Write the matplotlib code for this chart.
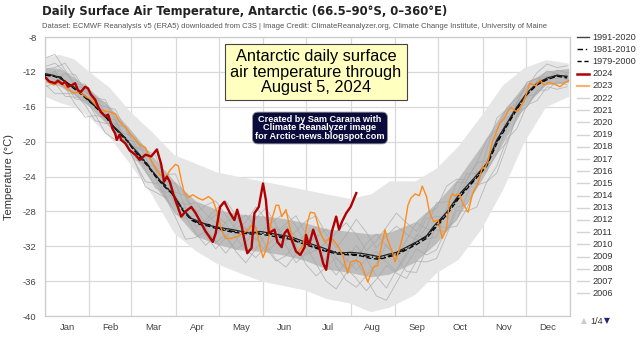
import matplotlib
matplotlib.use("Agg")
import matplotlib.pyplot as plt
from matplotlib.lines import Line2D

plt.rcParams["font.family"] = ["Liberation Sans", "DejaVu Sans"]
plt.rcParams["axes.unicode_minus"] = False

# month boundaries and label positions (day of year, leap year)
month_bounds = [0, 31, 60, 91, 121, 152, 182, 213, 244, 274, 305, 335, 366]
month_names = ["Jan", "Feb", "Mar", "Apr", "May", "Jun", "Jul", "Aug", "Sep", "Oct", "Nov", "Dec"]

# climatological means
clim_days = [0, 6, 11, 15, 20, 24, 29, 33, 38, 43, 47, 52, 57, 61, 66, 71, 78, 84, 89, 96,
             102, 108, 114, 120, 131, 143, 150, 157, 171, 183, 194, 204, 213, 220, 227, 233, 240, 245, 252, 259,
             266, 271, 275, 280, 289, 298, 308, 315, 322, 329, 336, 343, 350, 357, 364]
clim_1991_2020 = [-12.2, -12.4, -12.7, -13.2, -13.7, -14.3, -14.9, -15.6, -16.4, -17.2,
                  -18.1, -18.9, -19.8, -20.6, -21.5, -22.6, -24.0, -25.2, -25.9, -27.8,
                  -28.8, -29.2, -29.6, -29.8, -30.1, -30.5, -30.3, -30.5, -30.9, -31.6,
                  -32.2, -32.8, -32.7, -32.8, -33.0, -33.2, -32.9, -32.7, -32.1, -31.5,
                  -30.8, -29.7, -29.0, -28.1, -26.0, -24.4, -22.5, -19.8, -17.9, -16.0,
                  -14.4, -13.3, -12.7, -12.4, -12.5]
clim_1981_2010 = [-12.3, -12.5, -12.6, -13.3, -13.8, -14.2, -15.0, -15.7, -16.3, -17.3,
                  -18.2, -19.0, -19.7, -20.8, -21.6, -22.5, -24.1, -25.0, -26.1, -27.7,
                  -28.9, -29.4, -29.5, -29.9, -30.3, -30.4, -30.5, -30.6, -31.1, -31.8,
                  -32.4, -32.7, -32.9, -33.0, -33.2, -33.4, -33.1, -32.8, -32.3, -31.6,
                  -30.9, -29.9, -29.2, -28.2, -26.2, -24.6, -22.6, -20.0, -18.0, -16.2,
                  -14.5, -13.4, -12.8, -12.4, -12.6]
clim_1979_2000 = [-12.4, -12.5, -12.8, -13.2, -13.9, -14.4, -15.1, -15.7, -16.5, -17.3,
                  -18.1, -19.1, -19.9, -20.7, -21.8, -22.7, -24.2, -25.3, -26.0, -27.9,
                  -29.0, -29.5, -29.7, -30.0, -30.4, -30.6, -30.6, -30.8, -31.2, -31.9,
                  -32.5, -32.9, -33.0, -33.1, -33.4, -33.5, -33.2, -33.0, -32.4, -31.8,
                  -31.1, -30.1, -29.4, -28.4, -26.4, -24.7, -22.8, -20.2, -18.2, -16.3,
                  -14.6, -13.5, -12.9, -12.5, -12.7]

# 2024 through August 5
days_2024 = [0, 3, 7, 9, 12, 14, 16, 19, 21, 23, 25, 28, 30, 32, 35, 37, 39, 42, 44, 46,
             47, 49, 50, 52, 53, 56, 59, 63, 66, 70, 74, 78, 81, 83, 85, 87, 90, 95, 98, 102,
             105, 109, 112, 117, 119, 122, 125, 129, 132, 134, 137, 139, 141, 144, 146, 149, 152, 154, 156, 160,
             162, 165, 167, 169, 172, 175, 178, 181, 182, 184, 187, 189, 191, 194, 196, 198, 200, 203, 205, 207,
             210, 213, 217]
temp_2024 = [-12.6, -13.1, -13.3, -13.0, -13.4, -13.1, -13.7, -13.5, -13.3, -14.1,
             -14.3, -13.7, -13.9, -14.6, -15.2, -16.0, -16.6, -17.1, -16.9, -17.9,
             -18.5, -19.1, -19.8, -19.2, -19.8, -20.2, -21.0, -21.5, -22.1, -21.5,
             -21.7, -20.9, -22.6, -24.6, -24.0, -24.6, -26.3, -28.6, -28.0, -27.5,
             -28.2, -29.4, -30.3, -31.5, -30.5, -27.5, -26.9, -28.2, -29.0, -27.8,
             -29.6, -31.3, -32.8, -32.2, -28.2, -27.5, -24.8, -26.7, -30.5, -30.1,
             -31.5, -32.1, -30.5, -30.1, -31.3, -32.6, -33.0, -32.1, -30.7, -31.9,
             -30.1, -31.1, -32.1, -34.0, -34.7, -32.4, -30.3, -28.6, -30.1, -29.2,
             -28.2, -27.5, -25.9]

# 2023 full year
days_2023 = [0, 2, 6, 10, 14, 17, 20, 24, 29, 33, 35, 38, 42, 45, 49, 51, 54, 56, 59, 63,
             66, 70, 73, 77, 80, 84, 87, 91, 93, 95, 97, 100, 103, 107, 110, 114, 117, 120, 123, 126,
             130, 135, 138, 142, 144, 147, 150, 152, 155, 158, 161, 163, 165, 168, 171, 174, 176, 180, 183, 185,
             188, 192, 195, 199, 202, 205, 208, 211, 213, 217, 220, 222, 225, 229, 232, 234, 237, 239, 242, 244,
             247, 250, 253, 255, 258, 261, 263, 266, 268, 271, 274, 277, 280, 282, 284, 286, 289, 291, 295, 298,
             302, 305, 307, 309, 312, 314, 317, 320, 323, 325, 329, 332, 335, 338, 342, 345, 348, 352, 355, 359,
             362, 365]
temp_2023 = [-12.6, -13.1, -13.5, -13.2, -13.7, -14.1, -14.4, -14.3, -14.9, -15.2,
             -15.7, -16.3, -16.5, -16.6, -16.8, -17.5, -18.1, -18.3, -19.0, -19.8,
             -20.4, -20.7, -21.9, -23.0, -23.8, -24.2, -23.3, -22.6, -22.8, -24.4,
             -25.8, -26.4, -26.1, -26.5, -26.7, -26.3, -26.7, -28.1, -30.1, -31.1,
             -31.1, -30.8, -30.5, -30.1, -29.6, -29.9, -32.1, -33.3, -31.9, -29.0,
             -27.3, -27.3, -28.6, -27.8, -30.1, -32.2, -32.7, -31.9, -29.2, -28.1,
             -28.2, -30.5, -31.5, -31.0, -31.5, -32.2, -33.3, -35.1, -33.8, -33.6,
             -33.9, -34.7, -36.1, -34.4, -34.2, -32.4, -30.1, -31.3, -32.6, -33.8,
             -32.4, -30.4, -27.3, -26.5, -26.0, -26.2, -25.1, -26.3, -28.1, -29.2,
             -29.0, -31.1, -29.9, -26.7, -26.0, -26.2, -26.0, -27.0, -28.1, -26.0,
             -24.7, -22.9, -23.0, -22.1, -19.9, -19.2, -17.9, -17.4, -16.4, -16.1,
             -16.6, -15.9, -14.8, -13.3, -13.6, -12.9, -13.5, -13.2, -13.4, -13.7,
             -13.3, -13.0]

# spread of earlier years: full range and the dense middle
env_days = [0, 10, 20, 31, 45, 59, 74, 90, 105, 120, 135, 151, 166, 181, 196, 212, 227, 240, 258, 273,
            288, 304, 319, 334, 349, 365]
env_hi = [-10.3, -10.0, -10.5, -12.0, -13.8, -16.5, -18.8, -21.5, -22.5, -23.5, -24.0, -24.5, -25.0,
          -25.5, -26.0, -26.5, -26.0, -24.5, -24.5, -23.0, -20.5, -17.0, -13.5, -11.5, -10.6, -11.0]
env_lo = [-14.8, -15.5, -16.0, -17.2, -19.5, -22.5, -26.0, -30.5, -32.5, -34.0, -35.0, -36.0, -36.5,
          -37.0, -38.0, -38.5, -39.5, -39.0, -37.5, -35.0, -33.5, -30.0, -25.5, -20.0, -16.0, -14.8]
core_hi = [-11.5, -11.6, -12.6, -14.0, -16.0, -18.5, -21.5, -24.5, -26.8, -27.8, -28.3, -28.5, -28.8,
           -29.3, -30.0, -30.3, -30.6, -30.4, -29.2, -27.0, -24.2, -20.5, -16.6, -13.5, -11.9, -11.6]
core_lo = [-13.2, -13.6, -14.6, -16.0, -18.3, -21.0, -24.5, -28.0, -30.8, -31.8, -32.4, -32.6, -33.0,
           -33.6, -34.6, -35.0, -35.5, -35.2, -33.8, -31.6, -28.6, -24.5, -20.2, -16.0, -13.5, -13.2]

# a few of the earlier years, weekly
gray_days = list(range(0, 365, 7))
gray_years = [
    [-11.4, -11.0, -12.0, -13.6, -13.9, -15.6, -17.5, -17.9, -18.4, -20.3, -23.2, -25.3, -25.8, -25.8,
     -26.2, -28.1, -30.7, -32.3, -31.0, -29.4, -28.4, -29.8, -32.2, -33.7, -33.1, -31.6, -30.6, -29.8,
     -31.6, -34.2, -35.9, -36.7, -35.4, -34.0, -31.8, -33.2, -34.9, -35.0, -32.3, -29.6, -29.9, -29.0,
     -26.2, -23.5, -23.2, -21.4, -18.3, -15.4, -14.9, -13.0, -11.9, -12.2, -12.8],
    [-13.4, -14.5, -14.5, -14.5, -15.8, -17.6, -17.9, -18.0, -20.1, -22.4, -24.6, -24.8, -24.6, -24.8,
     -27.6, -29.8, -29.0, -27.8, -26.8, -28.4, -30.2, -28.8, -27.6, -29.5, -31.4, -30.3, -29.1, -28.5,
     -30.6, -32.2, -30.7, -28.9, -30.4, -32.2, -30.8, -29.7, -30.6, -31.3, -29.8, -27.0, -26.9, -27.0,
     -24.4, -22.4, -22.2, -21.3, -20.1, -17.0, -16.0, -14.1, -14.1, -13.1, -13.5],
    [-11.9, -13.0, -12.2, -12.3, -14.1, -15.7, -16.0, -16.3, -18.5, -20.7, -21.1, -23.3, -26.2, -28.3,
     -28.8, -28.4, -29.8, -31.6, -30.6, -32.6, -33.9, -32.3, -30.7, -29.8, -31.9, -33.9, -32.8, -31.8,
     -33.9, -35.3, -33.7, -31.9, -33.4, -35.4, -36.8, -34.7, -32.7, -30.7, -31.2, -30.9, -27.6, -24.7,
     -24.7, -24.8, -20.9, -17.3, -16.3, -15.6, -13.2, -12.8, -12.9, -11.8, -12.1],
    [-12.8, -12.1, -13.3, -15.1, -15.3, -15.2, -15.5, -17.6, -20.2, -20.6, -20.9, -21.6, -24.2, -26.7,
     -27.2, -27.0, -28.3, -29.3, -31.0, -32.4, -31.6, -30.0, -31.8, -33.5, -34.4, -32.9, -32.1, -34.0,
     -36.0, -36.9, -35.1, -33.7, -35.7, -37.7, -38.2, -36.2, -34.1, -32.3, -33.0, -32.4, -29.9, -29.7,
     -27.7, -25.0, -24.6, -23.6, -20.4, -17.0, -14.8, -14.5, -13.2, -13.4, -13.1],
    [-10.4, -10.0, -11.8, -13.4, -13.4, -15.0, -15.2, -17.3, -19.8, -20.0, -20.6, -23.2, -23.8, -23.7,
     -26.5, -28.2, -27.3, -26.8, -28.4, -30.0, -29.2, -27.5, -28.9, -30.4, -29.4, -28.5, -30.6, -32.5,
     -31.6, -30.4, -29.3, -30.7, -32.5, -31.4, -29.8, -28.2, -29.3, -30.3, -28.3, -27.6, -25.1, -24.3,
     -24.4, -22.5, -19.8, -18.6, -16.1, -15.0, -13.8, -12.1, -11.1, -11.5, -11.3],
    [-13.7, -13.3, -14.8, -14.9, -15.0, -16.9, -19.0, -19.8, -20.0, -22.5, -25.2, -25.8, -26.4, -28.7,
     -31.2, -31.0, -30.3, -31.4, -32.8, -31.4, -29.9, -31.1, -32.6, -31.7, -30.3, -31.9, -34.1, -35.4,
     -34.4, -33.3, -34.5, -35.7, -37.1, -35.8, -34.2, -35.1, -35.7, -33.7, -33.8, -33.4, -30.7, -27.9,
     -28.0, -27.5, -24.6, -22.8, -19.7, -18.5, -15.8, -15.3, -13.7, -14.0, -13.7],
    [-11.7, -11.5, -11.0, -12.7, -14.4, -14.8, -16.7, -18.9, -19.1, -19.5, -21.8, -24.2, -26.4, -26.1,
     -28.6, -30.5, -31.9, -30.8, -29.2, -28.6, -30.0, -31.3, -29.8, -28.9, -28.1, -29.7, -31.8, -31.0,
     -30.0, -31.7, -33.5, -34.7, -33.5, -32.6, -33.8, -34.9, -33.1, -30.9, -28.8, -28.6, -28.7, -26.0,
     -23.7, -23.6, -23.4, -19.2, -18.7, -15.6, -13.2, -12.7, -12.5, -12.8, -12.2],
    [-12.5, -11.9, -13.8, -15.7, -17.2, -17.0, -17.2, -17.5, -20.0, -22.1, -22.6, -22.8, -25.0, -27.3,
     -27.6, -27.8, -29.3, -28.4, -29.4, -31.0, -32.4, -33.3, -32.0, -30.9, -29.7, -30.9, -33.0, -32.4,
     -31.6, -33.3, -34.7, -33.5, -31.7, -30.6, -32.0, -33.3, -31.3, -29.3, -30.0, -30.2, -30.3, -27.5,
     -27.2, -25.2, -22.0, -20.4, -17.3, -16.6, -16.0, -14.3, -13.1, -12.2, -12.9],
]

legend_years = [str(y) for y in range(2022, 2005, -1)]

W, H = 640, 339
fig = plt.figure(figsize=(W / 100, H / 100), dpi=100)
ax = fig.add_axes([45 / W, 1 - 316 / H, 525 / W, 279 / H])

ax.fill_between(env_days, env_lo, env_hi, color="#e6e6e6", lw=0, zorder=1)
ax.fill_between(env_days, core_lo, core_hi, color="#bdbdbd", lw=0, zorder=1)
for vals in gray_years:
    ax.plot(gray_days, vals, color="#a8a8a8", lw=0.6, alpha=0.75, zorder=2)

ax.plot(clim_days, clim_1979_2000, color="black", lw=0.9, ls=(0, (4, 2)), zorder=3)
ax.plot(clim_days, clim_1981_2010, color="black", lw=0.9, ls=(0, (5, 2, 1, 2)), zorder=3)
ax.plot(clim_days, clim_1991_2020, color="#222222", lw=0.9, zorder=3)
ax.plot(days_2023, temp_2023, color="#ff8c1a", lw=1.0, zorder=4)
ax.plot(days_2024, temp_2024, color="#b00000", lw=1.7, zorder=5)

ax.set_xlim(0, 366)
ax.set_ylim(-40, -8)
ax.set_yticks(range(-40, -7, 4))
ax.set_xticks(month_bounds, minor=True)
mids = [(a + b) / 2 for a, b in zip(month_bounds[:-1], month_bounds[1:])]
ax.set_xticks(mids)
ax.set_xticklabels(month_names)
ax.tick_params(which="both", length=0, labelsize=6.8, colors="#444444")
ax.tick_params(axis="x", pad=5)
ax.tick_params(axis="y", pad=6)
ax.grid(which="minor", axis="x", color="#d9d9d9", lw=0.9)
ax.grid(which="major", axis="y", color="#d9d9d9", lw=0.9)
ax.set_axisbelow(True)
for s in ax.spines.values():
    s.set_color("#cccccc")
    s.set_linewidth(0.9)
ax.set_ylabel("Temperature (°C)", fontsize=8, color="#333333")
ax.yaxis.set_label_coords(-31 / 525, 0.5)

fig.text(42 / W, 1 - 12 / H, "Daily Surface Air Temperature, Antarctic (66.5–90°S, 0–360°E)",
         fontsize=8.4, weight="bold", color="#222222", va="center", family="DejaVu Sans")
fig.text(42 / W, 1 - 27 / H,
         "Dataset: ECMWF Reanalysis v5 (ERA5) downloaded from C3S | Image Credit: ClimateReanalyzer.org, "
         "Climate Change Institute, University of Maine",
         fontsize=5.5, color="#555555", va="center")

# notes on the chart
fig.text(316 / W, 1 - 72 / H, "Antarctic daily surface\nair temperature through\nAugust 5, 2024",
         fontsize=11.8, ha="center", va="center", linespacing=1.08, color="black",
         bbox=dict(boxstyle="square,pad=0.3", facecolor="#ffffc0", edgecolor="#444444", lw=0.8))
fig.text(320 / W, 1 - 128 / H, "Created by Sam Carana with\nClimate Reanalyzer image\nfor Arctic-news.blogspot.com",
         fontsize=6.6, weight="bold", ha="center", va="center", linespacing=0.95, color="white",
         bbox=dict(boxstyle="round,pad=0.3,rounding_size=0.6", facecolor="#0b0b3b", edgecolor="#999999", lw=0.6))

# legend column
entries = [("1991-2020", dict(color="#444444", lw=1.0)),
           ("1981-2010", dict(color="black", lw=1.0, ls=(0, (4, 2, 1, 2)))),
           ("1979-2000", dict(color="black", lw=1.0, ls=(0, (3, 2)))),
           ("2024", dict(color="#b00000", lw=1.8)),
           ("2023", dict(color="#ffb070", lw=1.5))]
entries += [(y, dict(color="#d4d4d4", lw=1.0)) for y in legend_years]
for i, (label, style) in enumerate(entries):
    yp = 1 - (37 + 12.2 * i) / H
    fig.add_artist(Line2D([577 / W, 589 / W], [yp, yp], transform=fig.transFigure, **style))
    fig.text(592 / W, yp, label, fontsize=6.6, color="#333333", va="center")

fig.text(581 / W, 1 - 321 / H, "▲", fontsize=5.5, color="#cccccc", va="center", family="DejaVu Sans")
fig.text(590 / W, 1 - 321 / H, "1/4", fontsize=6.6, color="#333333", va="center")
fig.text(604 / W, 1 - 321 / H, "▼", fontsize=5.5, color="#1a237e", va="center", family="DejaVu Sans")

fig.savefig("out.png", dpi=100)
